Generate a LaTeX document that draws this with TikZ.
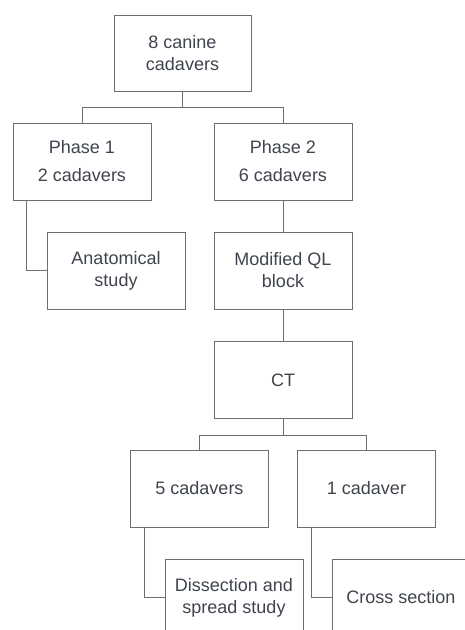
\documentclass[tikz,border=0pt]{standalone}
\usepackage{fontspec}
\setmainfont{Liberation Sans}
\definecolor{txt}{HTML}{3F444E}
\definecolor{ln}{HTML}{6E6E6E}
\begin{document}
\begin{tikzpicture}[x=1pt,y=-1pt,
  box/.style={draw=ln,line width=1pt,minimum width=138pt,minimum height=77pt,
    inner sep=0pt,align=center,text=txt,font=\fontsize{18}{22}\selectfont},
  conn/.style={draw=ln,line width=1pt}]
\useasboundingbox (0,0) rectangle (465,630);
\clip (0,0) rectangle (465,630);
\fill[white] (0,0) rectangle (465,630);
\node[box,minimum width=137pt,minimum height=76pt] (top) at (182.5,53) {8 canine\\cadavers};
\node[box] (p1) at (82,161.5) {Phase 1\\[6pt]2 cadavers};
\node[box] (p2) at (283,161.5) {Phase 2\\[6pt]6 cadavers};
\node[box] (anat) at (116,270.5) {Anatomical\\study};
\node[box] (mql) at (283,270.5) {Modified QL\\block};
\node[box] (ct) at (283,380) {CT};
\node[box] (c5) at (199.5,488.5) {5 cadavers};
\node[box] (c1) at (366.5,488.5) {1 cadaver};
\node[box] (diss) at (234,597.5) {Dissection and\\spread study};
\node[box] (cross) at (401,597.5) {Cross section};
\draw[conn] (top.south) -- ++(0,16) -| (p1.north);
\draw[conn] (top.south) -- ++(0,16) -| (p2.north);
\draw[conn] ([xshift=14pt]p1.south west) |- (anat.west);
\draw[conn] (p2.south) -- (mql.north);
\draw[conn] (mql.south) -- (ct.north);
\draw[conn] (ct.south) -- ++(0,16) -| (c5.north);
\draw[conn] (ct.south) -- ++(0,16) -| (c1.north);
\draw[conn] ([xshift=14pt]c5.south west) |- (diss.west);
\draw[conn] ([xshift=14pt]c1.south west) |- (cross.west);
\end{tikzpicture}
\end{document}
